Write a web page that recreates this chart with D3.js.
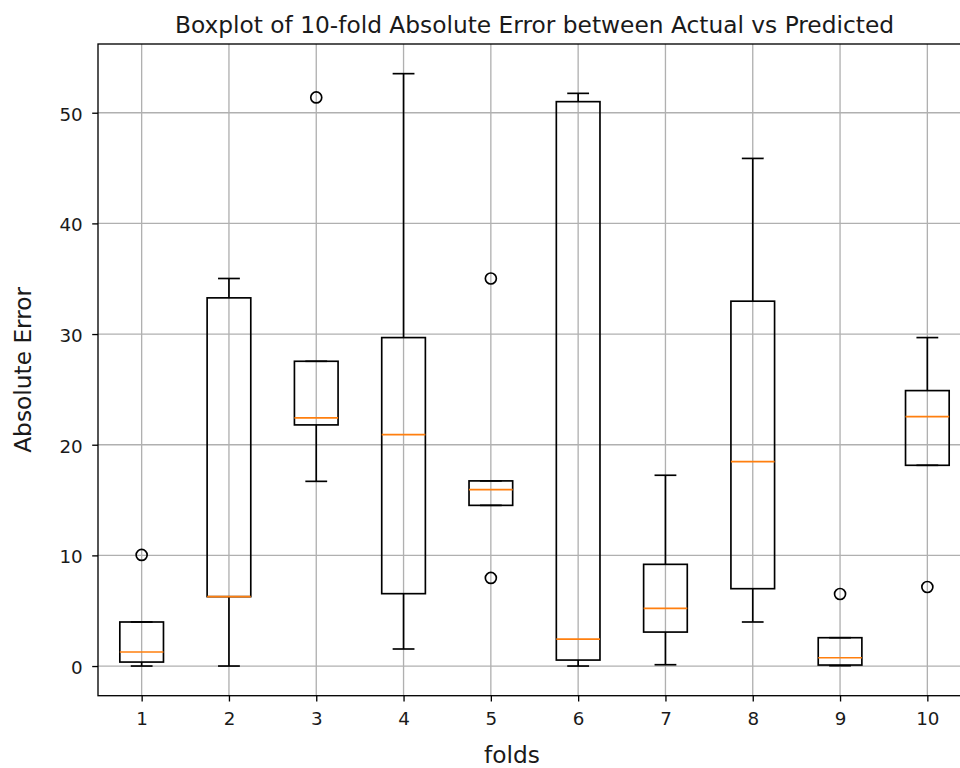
<!DOCTYPE html>
<html>
<head>
<meta charset="utf-8">
<script src="https://cdn.jsdelivr.net/npm/d3@7"></script>
<style>
  html, body { margin: 0; padding: 0; background: #fff; overflow: hidden; }
  svg { display: block; font-family: "DejaVu Sans", sans-serif; }
</style>
</head>
<body>
<svg id="chart" width="960" height="768"></svg>
<script>
// ---- data ----
const folds = [1, 2, 3, 4, 5, 6, 7, 8, 9, 10];
const q1Values = [0.36, 6.27, 21.79, 6.54, 14.52, 0.54, 3.07, 6.99, 0.09, 18.14];
const medianValues = [1.27, 6.27, 22.42, 20.91, 15.94, 2.44, 5.21, 18.47, 0.75, 22.54];
const q3Values = [3.98, 33.27, 27.54, 29.68, 16.73, 51.0, 9.19, 32.97, 2.56, 24.89];
const whiskerLowValues = [0.0, 0.0, 16.69, 1.54, 14.52, 0.0, 0.12, 3.98, 0.03, 18.14];
const whiskerHighValues = [3.98, 35.02, 27.54, 53.53, 16.73, 51.75, 17.24, 45.87, 2.56, 29.68];
const outlierFolds = [1, 3, 5, 5, 9, 10];
const outlierValues = [10.04, 51.38, 35.02, 7.96, 6.51, 7.14];
const yTickValues = [0, 10, 20, 30, 40, 50];
const titleText = "Boxplot of 10-fold Absolute Error between Actual vs Predicted";
const xLabelText = "folds";
const yLabelText = "Absolute Error";

// ---- layout ----
const svg = d3.select("#chart");
const pLeft = 98, pRight = 971, pTop = 44, pBottom = 695.7;

const x = d3.scaleLinear().domain([0.5, 10.5]).range([pLeft, pRight]);
const y = d3.scaleLinear().domain([-2.68, 56.21]).range([pBottom, pTop]);

const boxW = x(1.25) - x(1);   // half of 0.5 width
const capW = x(1.125) - x(1);  // half of 0.25 width
const lw = 1.67;

// grid
const grid = svg.append("g");
grid.selectAll("line.gx").data(folds).join("line")
  .attr("class", "gx")
  .attr("x1", d => x(d)).attr("x2", d => x(d))
  .attr("y1", pTop).attr("y2", pBottom)
  .attr("stroke", "#b0b0b0").attr("stroke-width", 1.33);
grid.selectAll("line.gy").data(yTickValues).join("line")
  .attr("class", "gy")
  .attr("x1", pLeft).attr("x2", pRight)
  .attr("y1", d => y(d)).attr("y2", d => y(d))
  .attr("stroke", "#b0b0b0").attr("stroke-width", 1.33);

// boxes
const data = folds.map((f, i) => ({
  f, q1: q1Values[i], med: medianValues[i], q3: q3Values[i],
  lo: whiskerLowValues[i], hi: whiskerHighValues[i]
}));

const g = svg.append("g");
const box = g.selectAll("g.box").data(data).join("g").attr("class", "box");

// whiskers
box.append("line")
  .attr("x1", d => x(d.f)).attr("x2", d => x(d.f))
  .attr("y1", d => y(d.q1)).attr("y2", d => y(d.lo))
  .attr("stroke", "#000").attr("stroke-width", lw);
box.append("line")
  .attr("x1", d => x(d.f)).attr("x2", d => x(d.f))
  .attr("y1", d => y(d.q3)).attr("y2", d => y(d.hi))
  .attr("stroke", "#000").attr("stroke-width", lw);
// caps
box.append("line")
  .attr("x1", d => x(d.f) - capW).attr("x2", d => x(d.f) + capW)
  .attr("y1", d => y(d.lo)).attr("y2", d => y(d.lo))
  .attr("stroke", "#000").attr("stroke-width", lw);
box.append("line")
  .attr("x1", d => x(d.f) - capW).attr("x2", d => x(d.f) + capW)
  .attr("y1", d => y(d.hi)).attr("y2", d => y(d.hi))
  .attr("stroke", "#000").attr("stroke-width", lw);
// box
box.append("rect")
  .attr("x", d => x(d.f) - boxW).attr("width", 2 * boxW)
  .attr("y", d => y(d.q3)).attr("height", d => y(d.q1) - y(d.q3))
  .attr("fill", "none").attr("stroke", "#000").attr("stroke-width", lw);
// median
box.append("line")
  .attr("x1", d => x(d.f) - boxW).attr("x2", d => x(d.f) + boxW)
  .attr("y1", d => y(d.med)).attr("y2", d => y(d.med))
  .attr("stroke", "#ff7f0e").attr("stroke-width", lw);

// outliers
g.selectAll("circle").data(outlierValues).join("circle")
  .attr("cx", (d, i) => x(outlierFolds[i]))
  .attr("cy", d => y(d))
  .attr("r", 5.5)
  .attr("fill", "none").attr("stroke", "#000").attr("stroke-width", lw);

// spines
svg.append("rect")
  .attr("x", pLeft).attr("y", pTop)
  .attr("width", pRight - pLeft).attr("height", pBottom - pTop)
  .attr("fill", "none").attr("stroke", "#000").attr("stroke-width", 1.33);

// axes
const xAxis = d3.axisBottom(x).tickValues(folds).tickSize(5.8).tickPadding(5.8).tickFormat(d3.format("d"));
const yAxis = d3.axisLeft(y).tickValues(yTickValues).tickSize(5.8).tickPadding(9.5).tickFormat(d3.format("d"));

const gx = svg.append("g").attr("transform", `translate(0,${pBottom})`).call(xAxis);
const gy = svg.append("g").attr("transform", `translate(${pLeft},0)`).call(yAxis);
[gx, gy].forEach(a => {
  a.select(".domain").remove();
  a.selectAll(".tick line").attr("stroke", "#000").attr("stroke-width", 1.33);
  a.selectAll(".tick text").attr("fill", "#1a1a1a").style("font-size", "18.3px")
    .style("font-family", "'DejaVu Sans', sans-serif");
});
gx.selectAll(".tick text").attr("y", 29.3).attr("dy", 0);
gy.selectAll(".tick text").attr("dy", "0.40em");

// titles
svg.append("text")
  .attr("x", 534.5).attr("y", 33.3)
  .attr("text-anchor", "middle")
  .style("font-size", "23.3px")
  .attr("fill", "#1a1a1a")
  .text(titleText);

svg.append("text")
  .attr("x", 512).attr("y", 763)
  .attr("text-anchor", "middle")
  .style("font-size", "23.3px")
  .attr("fill", "#1a1a1a")
  .text(xLabelText);

svg.append("text")
  .attr("transform", `translate(31,${(pTop + pBottom) / 2}) rotate(-90)`)
  .attr("text-anchor", "middle")
  .style("font-size", "23.3px")
  .attr("fill", "#1a1a1a")
  .text(yLabelText);
</script>
</body>
</html>
